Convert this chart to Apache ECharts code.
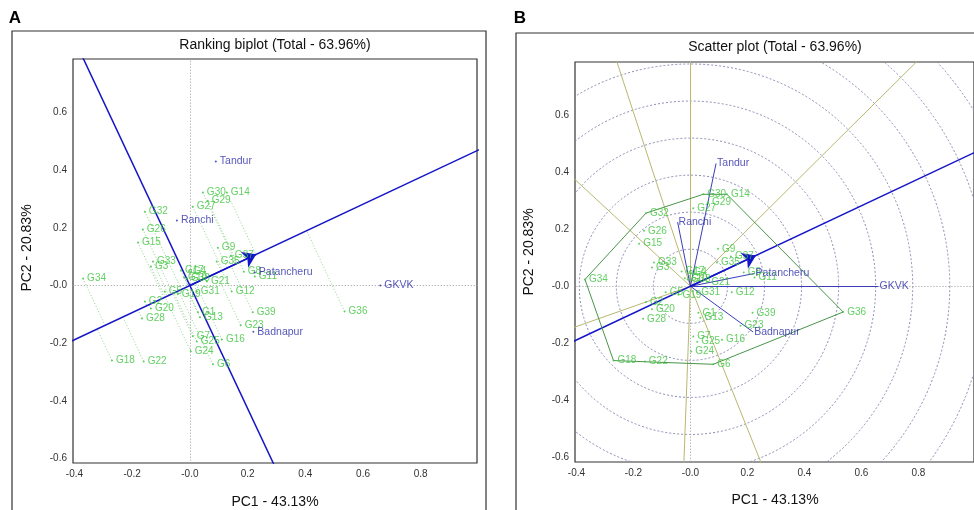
<!DOCTYPE html>
<html>
<head>
<meta charset="utf-8">
<title>GGE biplot</title>
<script src="https://cdn.jsdelivr.net/npm/echarts@6/dist/echarts.min.js"></script>
<style>
  html, body { margin: 0; padding: 0; background: #fff; }
  #main { width: 974px; height: 510px; }
</style>
</head>
<body>
<div id="main"></div>
<script>
// genotype scores (PC1, PC2)
const genoNames = ['G1', 'G2', 'G3', 'G4', 'G5', 'G6', 'G7', 'G8', 'G9', 'G10',
  'G11', 'G12', 'G13', 'G14', 'G15', 'G16', 'G17', 'G18', 'G19', 'G20',
  'G21', 'G22', 'G23', 'G24', 'G25', 'G26', 'G27', 'G28', 'G29', 'G30',
  'G31', 'G32', 'G33', 'G34', 'G35', 'G36', 'G37', 'G38', 'G39']
const genoPC1 = [0.028, -0.156, -0.135, -0.003, -0.087, 0.08, 0.01, 0.187, 0.097, -0.02,
  0.225, 0.145, 0.035, 0.128, -0.18, 0.111, -0.031, -0.27, -0.042, -0.135,
  0.059, -0.16, 0.176, 0.003, 0.024, -0.163, 0.01, -0.166, 0.062, 0.045,
  0.024, -0.156, -0.128, -0.37, 0.093, 0.536, 0.142, -0.01, 0.218]
const genoPC2 = [-0.093, -0.055, 0.066, 0.05, -0.021, -0.273, -0.176, 0.048, 0.131, 0.028,
  0.031, -0.021, -0.11, 0.322, 0.149, -0.187, 0.052, -0.26, -0.03, -0.08,
  0.014, -0.263, -0.138, -0.228, -0.194, 0.194, 0.273, -0.114, 0.294, 0.322,
  -0.021, 0.256, 0.083, 0.024, 0.083, -0.09, 0.104, 0.024, -0.093]

// environment scores
const envNames = ['Tandur', 'Ranchi', 'Patancheru', 'GKVK', 'Badnapur']
const envPC1 = [0.09, -0.045, 0.225, 0.66, 0.22]
const envPC2 = [0.43, 0.225, 0.045, 0.0, -0.16]

// vertex genotypes of the polygon (scatter plot)
const polygonNames = ['G34', 'G32', 'G30', 'G14', 'G36', 'G6', 'G18']
// concentric circles of the scatter plot
const circleRadii = [0.13, 0.26, 0.39, 0.52, 0.65, 0.78, 0.91, 1.04, 1.17, 1.3]

// ticks
const xTickValues = [-0.4, -0.2, 0, 0.2, 0.4, 0.6, 0.8]
const xTickLabels = ['-0.4', '-0.2', '-0.0', '0.2', '0.4', '0.6', '0.8']
const yTickValues = [-0.6, -0.4, -0.2, 0, 0.2, 0.4, 0.6]
const yTickLabels = ['-0.6', '-0.4', '-0.2', '-0.0', '0.2', '0.4', '0.6']

const FONT = 'Liberation Sans, Arial, sans-serif'
const GREEN = '#3cc43c'
const ENV_BLUE = '#2a2aa8'
const AXIS_BLUE = '#1414c8'

let chart = echarts.init(document.getElementById('main'))

// average environment (arrow of the AEA)
let meanX = envPC1.reduce((a, b) => a + b, 0) / envPC1.length
let meanY = envPC2.reduce((a, b) => a + b, 0) / envPC2.length
let meanLen = Math.sqrt(meanX * meanX + meanY * meanY)
let ux = meanX / meanLen
let uy = meanY / meanLen

function geno(name) {
  let i = genoNames.indexOf(name)
  return [genoPC1[i], genoPC2[i]]
}

function pickLabel(vals, labels) {
  return function (v) {
    for (let i = 0; i < vals.length; i++) {
      if (Math.abs(vals[i] - v) < 1e-6) return labels[i]
    }
    return ''
  }
}

// projection of each genotype onto the AEA
let projLines = genoNames.map((n, i) => {
  let d = genoPC1[i] * ux + genoPC2[i] * uy
  return { coords: [[genoPC1[i], genoPC2[i]], [d * ux, d * uy]] }
})

// rays from the origin perpendicular to the polygon sides
let rays = polygonNames.map((n, i) => {
  let a = geno(n)
  let b = geno(polygonNames[(i + 1) % polygonNames.length])
  let dx = b[0] - a[0], dy = b[1] - a[1]
  let t = -(a[0] * dx + a[1] * dy) / (dx * dx + dy * dy)
  let fx = a[0] + t * dx, fy = a[1] + t * dy
  let l = Math.sqrt(fx * fx + fy * fy)
  return { coords: [[0, 0], [fx / l * 3, fy / l * 3]] }
})

let polygonData = polygonNames.concat([polygonNames[0]]).map(n => geno(n))

let genoData = genoNames.map((n, i) => ({ name: n, value: [genoPC1[i], genoPC2[i]] }))
let envData = envNames.map((n, i) => ({ name: n, value: [envPC1[i], envPC2[i]] }))

function linesSeries(idx, data, style, extra) {
  return Object.assign({
    type: 'lines', coordinateSystem: 'cartesian2d', xAxisIndex: idx, yAxisIndex: idx,
    clip: true, silent: true,
    lineStyle: Object.assign({ opacity: 1, curveness: 0 }, style),
    data: data
  }, extra || {})
}

function zeroLines(idx) {
  return linesSeries(idx, [{ coords: [[0, -2], [0, 2]] }, { coords: [[-2, 0], [2, 0]] }],
    { color: '#9a9a9a', width: 1, type: [1, 2] })
}

function genoSeries(idx) {
  return {
    type: 'scatter', xAxisIndex: idx, yAxisIndex: idx, data: genoData,
    symbol: 'circle', symbolSize: 2,
    itemStyle: { color: GREEN },
    label: {
      show: true, position: 'right', distance: 3, formatter: '{b}',
      color: GREEN, fontSize: 10, fontFamily: FONT
    },
    z: 5
  }
}

function aeaSeries(idx) {
  return [
    linesSeries(idx, [{ coords: [[-ux * 3, -uy * 3], [ux * 3, uy * 3]] }],
      { color: AXIS_BLUE, width: 1.5 }),
    linesSeries(idx, [{ coords: [[0, 0], [meanX, meanY]] }],
      { color: AXIS_BLUE, width: 1.5 },
      { symbol: ['none', 'arrow'], symbolSize: 13, clip: false })
  ]
}

function xAxisOf(idx) {
  return {
    type: 'value', gridIndex: idx, min: -0.405, max: 0.995,
    axisLine: { show: false }, axisTick: { show: false }, splitLine: { show: false },
    axisLabel: {
      customValues: xTickValues, formatter: pickLabel(xTickValues, xTickLabels),
      color: '#333', fontSize: 10, fontFamily: FONT, margin: 6
    }
  }
}

function yAxisOf(idx) {
  return {
    type: 'value', gridIndex: idx, min: -0.615, max: 0.785,
    axisLine: { show: false }, axisTick: { show: false }, splitLine: { show: false },
    axisLabel: {
      customValues: yTickValues, formatter: pickLabel(yTickValues, yTickLabels),
      color: '#333', fontSize: 10, fontFamily: FONT, margin: 6
    }
  }
}

function txt(text, x, y, size, opts) {
  return Object.assign({
    type: 'text', x: x, y: y, silent: true,
    style: {
      text: text, font: size + 'px ' + FONT, fill: '#111',
      align: 'center', verticalAlign: 'middle', textAlign: 'center', textVerticalAlign: 'middle'
    }
  }, opts || {})
}

let option = {
  animation: false,
  backgroundColor: '#fff',
  grid: [
    { left: 73, top: 59, width: 404, height: 404, show: true, borderColor: '#333', borderWidth: 1.2 },
    { left: 575, top: 62, width: 400, height: 400, show: true, borderColor: '#333', borderWidth: 1.2 }
  ],
  xAxis: [xAxisOf(0), xAxisOf(1)],
  yAxis: [yAxisOf(0), yAxisOf(1)],
  graphic: [
    { type: 'rect', shape: { x: 12, y: 31, width: 474, height: 500 }, style: { fill: 'none', stroke: '#333', lineWidth: 1.2 }, silent: true },
    { type: 'rect', shape: { x: 516, y: 33, width: 470, height: 500 }, style: { fill: 'none', stroke: '#333', lineWidth: 1.2 }, silent: true },
    txt('A', 15, 18, 17, { style: { text: 'A', font: 'bold 17px ' + FONT, fill: '#000', align: 'center', verticalAlign: 'middle' } }),
    txt('B', 520, 18, 17, { style: { text: 'B', font: 'bold 17px ' + FONT, fill: '#000', align: 'center', verticalAlign: 'middle' } }),
    txt('Ranking biplot (Total - 63.96%)', 275, 45, 14),
    txt('Scatter plot (Total - 63.96%)', 775, 47, 14),
    txt('PC1 - 43.13%', 275, 502, 14),
    txt('PC1 - 43.13%', 775, 500, 14),
    txt('PC2 - 20.83%', 27, 248, 14, { rotation: Math.PI / 2 }),
    txt('PC2 - 20.83%', 529, 252, 14, { rotation: Math.PI / 2 })
  ],
  series: [
    // ---- A: ranking biplot ----
    zeroLines(0),
    linesSeries(0, projLines, { color: '#8fd48f', width: 1, type: [1, 2] }),
    // ATC ordinate
    linesSeries(0, [{ coords: [[uy * 3, -ux * 3], [-uy * 3, ux * 3]] }], { color: AXIS_BLUE, width: 1.5 })
  ].concat(aeaSeries(0)).concat([
    genoSeries(0),
    {
      type: 'scatter', xAxisIndex: 0, yAxisIndex: 0, data: envData,
      symbol: 'circle', symbolSize: 2,
      itemStyle: { color: ENV_BLUE },
      label: {
        show: true, position: 'right', distance: 3, formatter: '{b}',
        color: ENV_BLUE, fontSize: 10.5, fontFamily: FONT
      },
      z: 6
    },
    // ---- B: scatter plot (which-won-where) ----
    zeroLines(1),
    {
      type: 'custom', xAxisIndex: 1, yAxisIndex: 1, silent: true,
      data: circleRadii.map(r => [0, 0, r]),
      encode: { x: 0, y: 1 },
      renderItem: function (params, api) {
        let c = api.coord([0, 0])
        let r = api.size([api.value(2), 0])[0]
        let cs = params.coordSys
        return {
          type: 'group',
          children: [{
            type: 'circle',
            shape: { cx: c[0], cy: c[1], r: r },
            style: { fill: 'none', stroke: '#8c8cb4', lineWidth: 1, lineDash: [2, 2] }
          }],
          clipPath: { type: 'rect', shape: { x: cs.x, y: cs.y, width: cs.width, height: cs.height } }
        }
      }
    },
    linesSeries(1, rays, { color: '#b9b770', width: 1 }),
    {
      type: 'line', xAxisIndex: 1, yAxisIndex: 1, data: polygonData,
      symbol: 'none', silent: true, clip: true,
      lineStyle: { color: '#4a944a', width: 1 }
    },
    linesSeries(1, envNames.map((n, i) => ({ coords: [[0, 0], [envPC1[i], envPC2[i]]] })),
      { color: '#3c3cbc', width: 1 })
  ]).concat(aeaSeries(1)).concat([
    genoSeries(1),
    {
      type: 'scatter', xAxisIndex: 1, yAxisIndex: 1, data: envData,
      symbolSize: 0,
      label: {
        show: true, position: 'right', distance: 1, formatter: '{b}',
        color: ENV_BLUE, fontSize: 10.5, fontFamily: FONT
      },
      z: 6
    }
  ])
}

chart.setOption(option)
</script>
</body>
</html>
